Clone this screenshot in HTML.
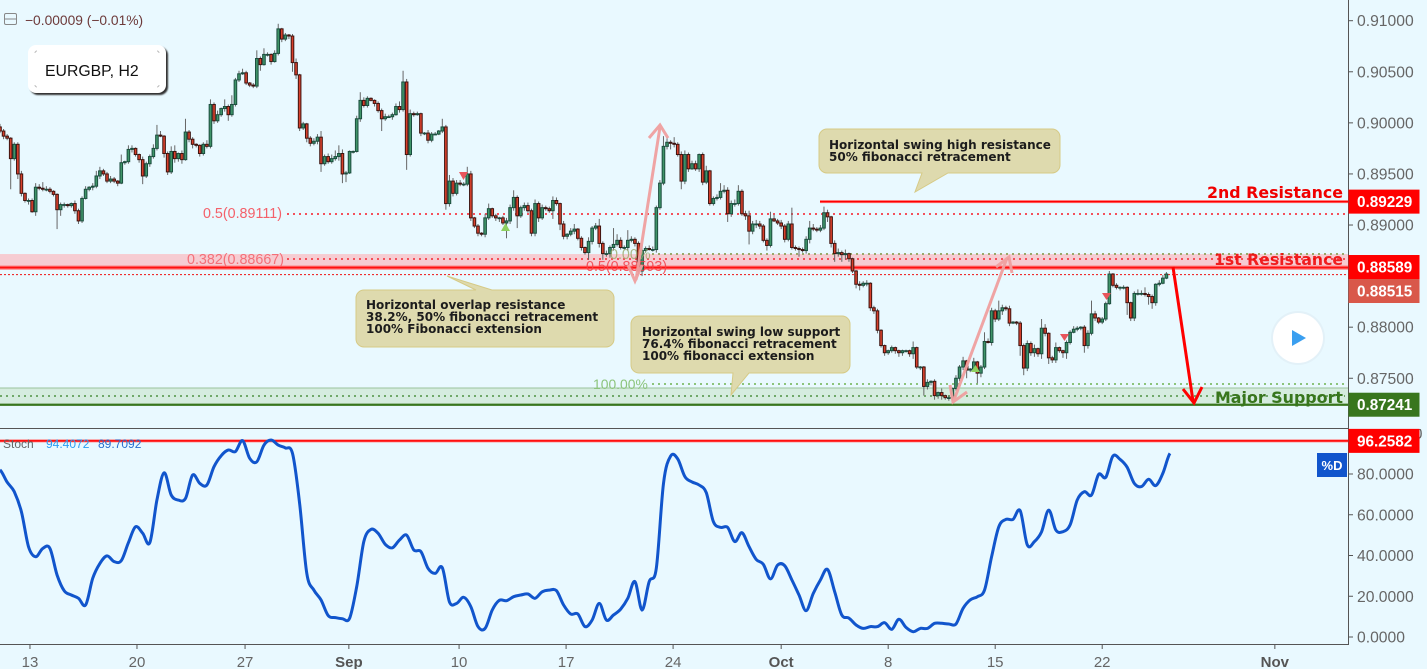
<!DOCTYPE html>
<html lang="en">
<head>
<meta charset="utf-8">
<title>EURGBP, H2 chart</title>
<style>
html,body{margin:0;padding:0;background:#e9f9ff;width:1427px;height:669px;overflow:hidden;}
svg{display:block;font-family:"Liberation Sans",Arial,sans-serif;}
.note{font-family:"DejaVu Sans",sans-serif;font-size:12px;font-weight:bold;fill:#1c1c1c;}
.lvl{font-family:"DejaVu Sans",sans-serif;font-weight:bold;}
</style>
</head>
<body>
<svg id="chart" xmlns="http://www.w3.org/2000/svg" width="1427" height="669" viewBox="0 0 1427 669">
  <defs>
    <filter id="badge-shadow" x="-10%" y="-10%" width="125%" height="130%">
      <feGaussianBlur stdDeviation="0.8"/>
    </filter>
  </defs>
  <rect x="0" y="0" width="1427" height="669" fill="#e9f9ff"/>
  <g id="layer-levels"></g>
  <g id="layer-candles"></g>

  <g font-size="14.3">
    <text x="203" y="218" fill="#f4606a">0.5(0.89111)</text>
    <text x="187" y="264" fill="#f4606a" opacity=".85">0.382(0.88667)</text>
    <text x="586" y="271" fill="#f4404a" opacity=".85">0.5(0.88593)</text>
    <text x="610" y="259" fill="#9aa86a" opacity=".8">0.00%</text>
    <text x="593" y="389" fill="#8cc47c" font-size="13.9">100.00%</text>
  </g>

  <g fill="none" stroke="#f0a0a0" stroke-width="3" opacity=".95">
    <path d="M636 280L660 127"/>
    <path d="M649 138L660 125L668 138"/>
    <path d="M628 265L635 281L642 265"/>
  </g>
  <g fill="none" stroke="#f0a0a0" stroke-width="3" opacity=".95">
    <path d="M954 400L1007 258"/>
    <path d="M996 267L1009 257L1012 273"/>
    <path d="M950 385L953 402L967 392"/>
  </g>
  <g fill="none" stroke="#ff0000" stroke-width="3">
    <path d="M1173 267L1193 401"/>
    <path d="M1183 389L1194 403L1202 387"/>
  </g>

  <g>
    <path d="M459 172L468 172L463.5 180Z" fill="#e8555c"/>
    <path d="M501 231L510 231L505.5 223Z" fill="#8ed060"/>
    <path d="M971 372L980 372L975.5 365Z" fill="#8ed060"/>
    <path d="M1060 334L1069 334L1064.5 341Z" fill="#e8555c"/>
    <path d="M1102 293L1111 293L1106.5 300Z" fill="#e8555c"/>
  </g>

  <g>
    <path d="M364 290H476L447 276L492 290H606a8 8 0 0 1 8 8V339a8 8 0 0 1-8 8H364a8 8 0 0 1-8-8V298a8 8 0 0 1 8-8Z" fill="#dedaae" stroke="#d6ca86"/>
    <text class="note" x="366" y="309">Horizontal overlap resistance</text>
    <text class="note" x="366" y="321">38.2%, 50% fibonacci retracement</text>
    <text class="note" x="366" y="333">100% Fibonacci extension</text>
  </g>
  <g>
    <path d="M639 316H842a8 8 0 0 1 8 8V365a8 8 0 0 1-8 8H749L731 395L733 373H639a8 8 0 0 1-8-8V324a8 8 0 0 1 8-8Z" fill="#dedaae" stroke="#d6ca86"/>
    <text class="note" x="642" y="336">Horizontal swing low support</text>
    <text class="note" x="642" y="348">76.4% fibonacci retracement</text>
    <text class="note" x="642" y="360">100% fibonacci extension</text>
  </g>
  <g>
    <path d="M827 129H1052a8 8 0 0 1 8 8V165a8 8 0 0 1-8 8H948L915 192L922 173H827a8 8 0 0 1-8-8V137a8 8 0 0 1 8-8Z" fill="#dedaae" stroke="#d6ca86"/>
    <text class="note" x="829" y="149">Horizontal swing high resistance</text>
    <text class="note" x="829" y="161">50% fibonacci retracement</text>
  </g>

  <text class="lvl" x="1207" y="198" font-size="16" fill="#f00000" textLength="136" lengthAdjust="spacingAndGlyphs">2nd Resistance</text>
  <text class="lvl" x="1214" y="265" font-size="16" fill="#f00000" opacity=".85" textLength="129" lengthAdjust="spacingAndGlyphs">1st Resistance</text>
  <text class="lvl" x="1215" y="403" font-size="16" fill="#38761d" textLength="128" lengthAdjust="spacingAndGlyphs">Major Support</text>

  <g>
    <rect x="30" y="47" width="138" height="48" rx="8" fill="#333" filter="url(#badge-shadow)"/>
    <rect x="28" y="45" width="138" height="48" rx="8" fill="#ffffff"/>
    <path d="M35 53a2 2 0 0 1 2-2M157 51a2 2 0 0 1 2 2M37 87a2 2 0 0 1-2-2M159 85a2 2 0 0 1-2 2" fill="none" stroke="#bbb"/>
    <text x="45" y="76" font-size="15.8" fill="#111">EURGBP, H2</text>
  </g>
  <g>
    <rect x="4.5" y="13.5" width="12" height="11" rx="1.5" fill="none" stroke="#888"/>
    <line x1="5" y1="19" x2="16" y2="19" stroke="#888"/>
  </g>
  <text x="25" y="25" font-size="13.8" fill="#6d3a3a">−0.00009 (−0.01%)</text>

  <g>
    <line x1="0" y1="428.5" x2="1348" y2="428.5" stroke="#555"/>
    <g id="layer-stoch"></g>
    <text x="3" y="448" font-size="12" fill="#666">Stoch</text>
    <text x="46" y="448" font-size="12" fill="#2a9df4">94.4072</text>
    <text x="98" y="448" font-size="12" fill="#2a6fd0">89.7092</text>
  </g>

  <g id="layer-axes"></g>

  <g>
    <circle cx="1298" cy="338" r="27" fill="#dfeef5" opacity=".7"/>
    <circle cx="1298" cy="338" r="25" fill="#ffffff"/>
    <path d="M1292 330L1306 338L1292 346Z" fill="#3a9ff0"/>
  </g>
</svg>

<script>
// Candle closes (EURGBP, one entry per drawn candle).
const closes = [
0.8992,0.8987,0.8985,0.8965,0.8979,0.8950,0.8931,0.8924,0.8924,0.8913,
0.8937,0.8936,0.8935,0.8935,0.8933,0.8930,0.8915,0.8920,0.8920,0.8919,
0.8921,0.8914,0.8904,0.8926,0.8935,0.8937,0.8938,0.8948,0.8953,0.8950,
0.8943,0.8945,0.8943,0.8941,0.8961,0.8962,0.8974,0.8975,0.8969,0.8964,
0.8948,0.8960,0.8967,0.8975,0.8988,0.8987,0.8970,0.8952,0.8972,0.8965,
0.8970,0.8964,0.8991,0.8984,0.8979,0.8978,0.8970,0.8979,0.8977,0.9018,
0.9002,0.9008,0.9014,0.9016,0.9008,0.9018,0.9042,0.9048,0.9049,0.9039,
0.9037,0.9036,0.9063,0.9057,0.9067,0.9067,0.9060,0.9068,0.9092,0.9082,
0.9086,0.9085,0.9059,0.9047,0.8995,0.8999,0.8985,0.8980,0.8982,0.8986,
0.8960,0.8967,0.8962,0.8965,0.8967,0.8970,0.8950,0.8951,0.8972,0.8972,
0.9004,0.9022,0.9017,0.9024,0.9022,0.9019,0.9012,0.9004,0.9006,0.9006,
0.9008,0.9016,0.9013,0.9040,0.8969,0.9009,0.9008,0.9009,0.8990,0.8990,
0.8983,0.8989,0.8989,0.8992,0.8996,0.8921,0.8943,0.8931,0.8941,0.8940,
0.8940,0.8950,0.8907,0.8899,0.8892,0.8891,0.8907,0.8916,0.8909,0.8907,
0.8907,0.8902,0.8904,0.8917,0.8927,0.8909,0.8917,0.8919,0.8914,0.8892,
0.8921,0.8907,0.8917,0.8916,0.8914,0.8924,0.8921,0.8901,0.8889,0.8891,
0.8894,0.8896,0.8887,0.8878,0.8873,0.8884,0.8897,0.8899,0.8882,0.8872,
0.8872,0.8878,0.8881,0.8885,0.8878,0.8878,0.8885,0.8886,0.8882,0.8855,
0.8875,0.8877,0.8876,0.8876,0.8917,0.8941,0.8977,0.8981,0.8980,0.8979,
0.8969,0.8943,0.8969,0.8955,0.8960,0.8955,0.8969,0.8942,0.8953,0.8921,
0.8926,0.8927,0.8933,0.8934,0.8911,0.8921,0.8921,0.8933,0.8911,0.8909,
0.8894,0.8901,0.8901,0.8899,0.8885,0.8880,0.8906,0.8904,0.8902,0.8899,
0.8886,0.8901,0.8878,0.8877,0.8876,0.8875,0.8886,0.8897,0.8896,0.8895,
0.8897,0.8912,0.8908,0.8882,0.8872,0.8873,0.8871,0.8872,0.8867,0.8855,
0.8842,0.8841,0.8843,0.8843,0.8819,0.8816,0.8797,0.8782,0.8775,0.8777,
0.8780,0.8777,0.8775,0.8777,0.8777,0.8774,0.8780,0.8761,0.8761,0.8742,
0.8746,0.8747,0.8733,0.8736,0.8733,0.8731,0.8731,0.8740,0.8750,0.8761,
0.8767,0.8758,0.8759,0.8766,0.8755,0.8761,0.8786,0.8785,0.8816,0.8808,
0.8816,0.8819,0.8818,0.8804,0.8805,0.8804,0.8782,0.8760,0.8784,0.8775,
0.8779,0.8774,0.8799,0.8794,0.8770,0.8768,0.8780,0.8777,0.8775,0.8785,
0.8795,0.8798,0.8799,0.8800,0.8782,0.8794,0.8813,0.8809,0.8805,0.8808,
0.8823,0.8852,0.8841,0.8839,0.8839,0.8839,0.8824,0.8809,0.8833,0.8833,
0.8833,0.8832,0.8830,0.8824,0.8842,0.8843,0.8848,0.8852];
const firstOpen = 0.8996;
// Upper / lower wick lengths in units of 0.0001.
const wickUp = [
3,2,2,1,2,2,3,1,2,2, 4,3,6,3,2,1,1,2,2,1, 1,3,2,2,3,1,3,5,4,2, 2,3,2,1,8,1,4,3,1,1,
3,2,2,4,10,4,1,2,5,6, 1,3,13,2,2,1,1,2,4,5, 2,4,1,7,2,9,2,3,4,2, 1,2,8,2,6,2,1,3,5,1,
2,1,2,4,1,2,1,2,3,3, 6,2,3,4,6,8,4,2,1,1, 3,8,3,2,1,1,2,2,3,2, 2,3,5,11,3,4,2,2,1,1,
3,2,2,1,8,2,6,3,3,3, 2,7,3,1,2,1,4,5,1,2, 1,2,3,3,7,2,2,3,3,2, 4,2,3,2,2,4,3,1,3,1,
3,5,1,2,1,4,2,3,7,2, 3,2,16,6,3,2,10,3,2,2, 6,2,3,3,2,3,10,5,2,6, 2,3,4,2,3,3,1,2,5,1,
2,3,8,5,3,3,4,6,2,3, 5,3,4,3,2,2,7,4,2,3, 2,3,16,2,2,2,3,7,4,2, 3,6,3,1,3,4,2,4,1,1,
1,3,2,3,1,2,2,1,1,1, 2,1,1,1,1,1,6,1,1,1, 3,1,2,1,4,1,2,1,3,2, 4,1,1,4,1,2,9,3,3,2,
10,3,2,3,1,1,2,2,3,2, 4,1,9,4,1,2,5,1,1,2, 2,3,2,1,2,3,13,3,1,2, 2,3,1,2,1,2,1,1,2,4,
3,6,2,2,1,3,3,2];
const wickDown = [
2,3,2,30,2,5,3,2,4,1, 4,2,2,2,2,2,19,6,3,2, 2,3,3,2,1,2,3,2,3,2, 2,2,2,3,1,2,2,3,2,3,
8,2,3,2,2,1,4,3,2,4, 3,4,1,3,4,2,3,2,2,2, 3,2,2,3,6,2,2,2,1,2, 2,2,2,6,1,2,3,1,2,3,
2,3,9,4,3,2,4,3,2,3, 8,2,2,2,2,4,9,8,1,2, 1,3,2,2,1,3,2,12,2,1, 3,1,3,2,15,2,2,1,3,2,
3,2,1,1,2,6,3,3,2,2, 2,2,3,2,3,2,3,2,2,3, 4,2,15,3,3,12,2,3,2,3, 3,4,2,2,2,8,2,6,3,3,
2,3,2,3,2,7,3,2,4,6, 3,4,3,2,2,2,3,2,3,3, 5,2,1,2,3,2,2,3,6,3, 2,8,3,3,1,2,3,3,2,2,
2,2,2,2,8,3,3,2,2,4, 13,3,4,3,2,5,2,1,2,3, 3,2,2,2,7,2,3,4,2,2, 2,2,5,4,8,3,7,5,3,2,
4,5,2,3,3,3,3,2,3,2, 2,3,4,3,2,3,5,2,3,9, 3,3,4,3,4,2,3,3,2,3, 3,8,2,2,10,4,2,1,3,3,
2,4,2,3,1,2,10,7,3,3, 4,3,5,3,6,3,3,2,5,6, 2,1,2,2,7,3,2,3,2,2, 2,1,2,2,3,2,12,3,3,2,
2,2,8,6,3,2,1,1];
// Stochastic %D, one value per two candles.
const stochD = [
82,76,71.3,61.5,44.3,39.4,43.5,43.5,30.4,22.7,20.6,19,15.7,28.8,36.1,39.8,37,37.5,46.3,54.1,
50.9,46.3,67.2,80.6,69.7,67.2,68,79.5,75.4,74.6,83.6,89,91.8,91,96.4,87.7,86,94.2,96.7,94.2,
92.8,90.1,65.6,31.2,23,18.2,10.5,9.5,9,9.2,24.7,46.8,52.8,50.9,45.5,43.8,47.6,50,42.7,41.9,
33.7,31.2,34,17.3,16.5,19.5,14.9,5.1,4.2,13.2,18,17.8,19.8,20.6,21.1,19,22.2,23,22.7,15.7,
11.3,11.3,5.1,8.3,16.5,8.3,10.8,13.7,19,27.2,13.2,27.2,33.7,75.4,88.8,87.4,78.7,76.1,74.6,70.8,
56.6,53.8,53.8,46.8,51.2,44.3,38.1,35.7,28.5,35.3,35,28,20.6,12.9,21.4,28,33.2,22.2,10.8,9.3,
5.9,4.2,5.1,5.1,7,3.8,8.7,4.7,2.6,4.2,4.2,6.7,6.7,6.4,6.4,14.1,18.2,19.8,23,39.4,
54.1,57.7,57.7,62,45.2,46.8,51.7,62.3,52.5,51.7,55,67.2,71.3,69.7,79.8,78.4,88.8,87.2,83.3,75.4,
73.8,77.4,74.3,80.3,90.1];
// Axis ticks and labels.
const priceTicks = [0.91,0.905,0.90,0.895,0.89,0.885,0.88,0.875];
const stochTicks = [100,80,60,40,20,0];
const dateLabels = ['13','20','27','Sep','10','17','24','Oct','8','15','22','Nov'];
const dateBars = [8.4,38.4,68.7,97.8,128.7,158.7,188.7,219,249,279,309,357.4];
// Key levels.
const secondResistance = 0.89229;
const firstResistance = 0.88589;
const lastPrice = 0.88515;
const majorSupport = 0.87241;
const stochLevel = 96.2582;
const fib05Upper = 0.89111;
const fib0382 = 0.88667;
const fib0Percent = 0.88716;
const fib100Percent = 0.87444;
const supportDots = 0.87331;
const resistanceZoneTop = 0.88716;
const supportZoneTop = 0.87405;

const SVG_NS = 'http://www.w3.org/2000/svg';
const priceY = function (p) { return 20.7 + (0.91 - p) * 10216; };
const stochY = function (v) { return 637 - 2.0375 * v; };
const barX = function (i) { return 3.567 * i; };
const PIP = 0.0001;
const layerLevels = document.getElementById('layer-levels');
const layerCandles = document.getElementById('layer-candles');
const layerStoch = document.getElementById('layer-stoch');
const layerAxes = document.getElementById('layer-axes');

function drawLine(parent, name, x1, y1, x2, y2, color, width, dash) {
  const el = document.createElementNS(SVG_NS, 'line');
  
  
  el.setAttribute('x1', x1);
  el.setAttribute('y1', y1);
  el.setAttribute('x2', x2);
  el.setAttribute('y2', y2);
  el.setAttribute('stroke', color);
  el.setAttribute('stroke-width', width);
  if (dash) el.setAttribute('stroke-dasharray', dash);
  parent.appendChild(el);
  return el;
}
function drawRect(parent, name, x, y, w, h, fill, stroke) {
  const el = document.createElementNS(SVG_NS, 'rect');
  
  
  el.setAttribute('x', x);
  el.setAttribute('y', y);
  el.setAttribute('width', w);
  el.setAttribute('height', h);
  el.setAttribute('fill', fill);
  if (stroke) el.setAttribute('stroke', stroke);
  parent.appendChild(el);
  return el;
}
function drawText(parent, name, x, y, str, size, color, weight, anchor) {
  const el = document.createElementNS(SVG_NS, 'text');
  
  
  el.setAttribute('x', x);
  el.setAttribute('y', y);
  el.setAttribute('font-size', size);
  el.setAttribute('fill', color);
  if (weight) el.setAttribute('font-weight', weight);
  if (anchor) el.setAttribute('text-anchor', anchor);
  el.textContent = str;
  parent.appendChild(el);
  return el;
}

// Zones and levels
const AXIS_X = 1348;
const snapY = function (p) { return Math.round(priceY(p)); };
drawRect(layerLevels, 'resistance-zone', 0, priceY(resistanceZoneTop), AXIS_X, priceY(firstResistance) - priceY(resistanceZoneTop), '#f6ccd2');
drawRect(layerLevels, 'support-zone', 0, priceY(supportZoneTop), AXIS_X, priceY(majorSupport) - priceY(supportZoneTop), '#d5ecdf');
drawLine(layerLevels, 'support-zone-top-border', 0, priceY(supportZoneTop), AXIS_X, priceY(supportZoneTop), '#9cc49c', 1);
drawLine(layerLevels, 'fib-dots-0-5-upper', 287, snapY(fib05Upper), AXIS_X - 3, snapY(fib05Upper), '#f4505a', 2, '2 4');
drawLine(layerLevels, 'fib-dots-0-382', 287, snapY(fib0382), AXIS_X - 3, snapY(fib0382), '#f4505a', 2, '2 4');
drawLine(layerLevels, 'fib-dots-0-percent', 652, snapY(fib0Percent), AXIS_X - 3, snapY(fib0Percent), '#9aa86a', 2, '2 4');
drawLine(layerLevels, 'fib-dots-100-percent', 652, snapY(fib100Percent), AXIS_X - 3, snapY(fib100Percent), '#8cc47c', 2, '2 4');
drawLine(layerLevels, 'support-dots', 0, snapY(supportDots), AXIS_X - 3, snapY(supportDots), '#6fa868', 2, '2 4');
drawLine(layerLevels, 'first-resistance-halo', 0, priceY(firstResistance) + 0.6, AXIS_X, priceY(firstResistance) + 0.6, '#ff6b6b', 4);
drawLine(layerLevels, 'first-resistance-line', 0, priceY(firstResistance) + 0.6, AXIS_X, priceY(firstResistance) + 0.6, '#ff1010', 1.6);
drawLine(layerLevels, 'last-price-line', 0, priceY(lastPrice), AXIS_X, priceY(lastPrice), '#f01010', 1, '2 2');
drawLine(layerLevels, 'second-resistance-halo', 820, priceY(secondResistance), AXIS_X, priceY(secondResistance), '#ff8080', 3);
drawLine(layerLevels, 'second-resistance-line', 820, priceY(secondResistance), AXIS_X, priceY(secondResistance), '#ff0000', 1.6);
drawLine(layerLevels, 'major-support-line', 0, priceY(majorSupport), AXIS_X, priceY(majorSupport), '#38761d', 2.2);

// Candles
for (let i = 0; i < closes.length; i++) {
  const open = i === 0 ? firstOpen : closes[i - 1];
  const close = closes[i];
  const top = Math.max(open, close);
  const bottom = Math.min(open, close);
  const high = top + (wickUp[i] || 0) * PIP;
  const low = bottom - (wickDown[i] || 0) * PIP;
  const up = close >= open;
  const g = document.createElementNS(SVG_NS, 'g');
  
  
  const x = barX(i);
  drawLine(g, 'candle-wick', x, priceY(high), x, priceY(low), '#666', 1);
  const body = drawRect(g, 'candle-body', x - 1.3, priceY(top), 2.6, Math.max(priceY(bottom) - priceY(top), 0.8), up ? '#3f9468' : '#d8402c', up ? '#1b4d3e' : '#3d1410');
  body.setAttribute('stroke-width', '1');
  layerCandles.appendChild(g);
}

// Stochastic
drawLine(layerStoch, 'stoch-level-halo', 0, stochY(stochLevel), AXIS_X, stochY(stochLevel), '#ff8080', 3);
drawLine(layerStoch, 'stoch-level-line', 0, stochY(stochLevel), AXIS_X, stochY(stochLevel), '#ff0000', 1.4);
let stochPath = 'M' + barX(0) + ' ' + stochY(stochD[0]);
for (let k = 0; k < stochD.length - 1; k++) {
  const v0 = stochD[Math.max(k - 1, 0)];
  const v1 = stochD[k];
  const v2 = stochD[k + 1];
  const v3 = stochD[Math.min(k + 2, stochD.length - 1)];
  const x1 = barX(k * 2);
  const x2 = barX((k + 1) * 2);
  const dx = (x2 - x1) / 3;
  const c1y = stochY(v1) + (stochY(v2) - stochY(v0)) / 6;
  const c2y = stochY(v2) - (stochY(v3) - stochY(v1)) / 6;
  stochPath += ' C' + (x1 + dx).toFixed(1) + ' ' + c1y.toFixed(1) + ' ' + (x2 - dx).toFixed(1) + ' ' + c2y.toFixed(1) + ' ' + x2.toFixed(1) + ' ' + stochY(v2).toFixed(1);
}
const stochLine = document.createElementNS(SVG_NS, 'path');


stochLine.setAttribute('d', stochPath);
stochLine.setAttribute('fill', 'none');
stochLine.setAttribute('stroke', '#1155cc');
stochLine.setAttribute('stroke-width', '3');
stochLine.setAttribute('stroke-linejoin', 'round');
layerStoch.appendChild(stochLine);

// Axes
drawLine(layerAxes, 'price-axis-line', AXIS_X + 0.5, 0, AXIS_X + 0.5, 644, '#555', 1);
drawLine(layerAxes, 'time-axis-line', 0, 644.5, AXIS_X + 1, 644.5, '#555', 1);
priceTicks.forEach(function (p) {
  drawLine(layerAxes, 'price-tick', AXIS_X, priceY(p), AXIS_X + 5, priceY(p), '#555', 1);
  drawText(layerAxes, 'price-tick-label', AXIS_X + 9, priceY(p) + 5.5, p.toFixed(5), 15.7, '#666');
});
stochTicks.forEach(function (v) {
  drawLine(layerAxes, 'stoch-tick', AXIS_X, stochY(v), AXIS_X + 5, stochY(v), '#555', 1);
  drawText(layerAxes, 'stoch-tick-label', AXIS_X + 9, stochY(v) + 5.5, v.toFixed(4), 15.7, '#666');
});
drawRect(layerAxes, 'stoch-scale-top-clip', AXIS_X + 1, 419, 78, 10, '#e9f9ff');
dateLabels.forEach(function (label, k) {
  const x = barX(dateBars[k]);
  const bold = isNaN(Number(label));
  drawLine(layerAxes, 'time-tick', x, 644, x, 649, '#555', 1);
  drawText(layerAxes, 'time-tick-label', x, 667, label, 15, bold ? '#555' : '#666', bold ? 'bold' : null, 'middle');
});

// Price badges
function drawBadge(name, centerY, color, str, width) {
  drawRect(layerAxes, name + '-box', AXIS_X + 0.5, centerY - 12, width, 24, color);
  drawText(layerAxes, name + '-text', AXIS_X + 9, centerY + 5.5, str, 15.3, '#ffffff', 'bold');
}
drawBadge('second-resistance-badge', priceY(secondResistance), '#ff0000', secondResistance.toFixed(5), 71);
drawBadge('last-price-badge', priceY(firstResistance) + 24, '#d9584a', lastPrice.toFixed(5), 71);
drawBadge('first-resistance-badge', priceY(firstResistance), '#ff0000', firstResistance.toFixed(5), 71);
drawBadge('major-support-badge', priceY(majorSupport), '#38761d', majorSupport.toFixed(5), 71);
drawBadge('stoch-level-badge', stochY(stochLevel), '#ff0000', stochLevel.toFixed(4), 71);
drawRect(layerAxes, 'stoch-d-tag-box', 1317, 453, 30, 24, '#1155cc');
drawText(layerAxes, 'stoch-d-tag-text', 1332, 470, '%D', 13, '#ffffff', 'bold', 'middle');
</script>
</body>
</html>
